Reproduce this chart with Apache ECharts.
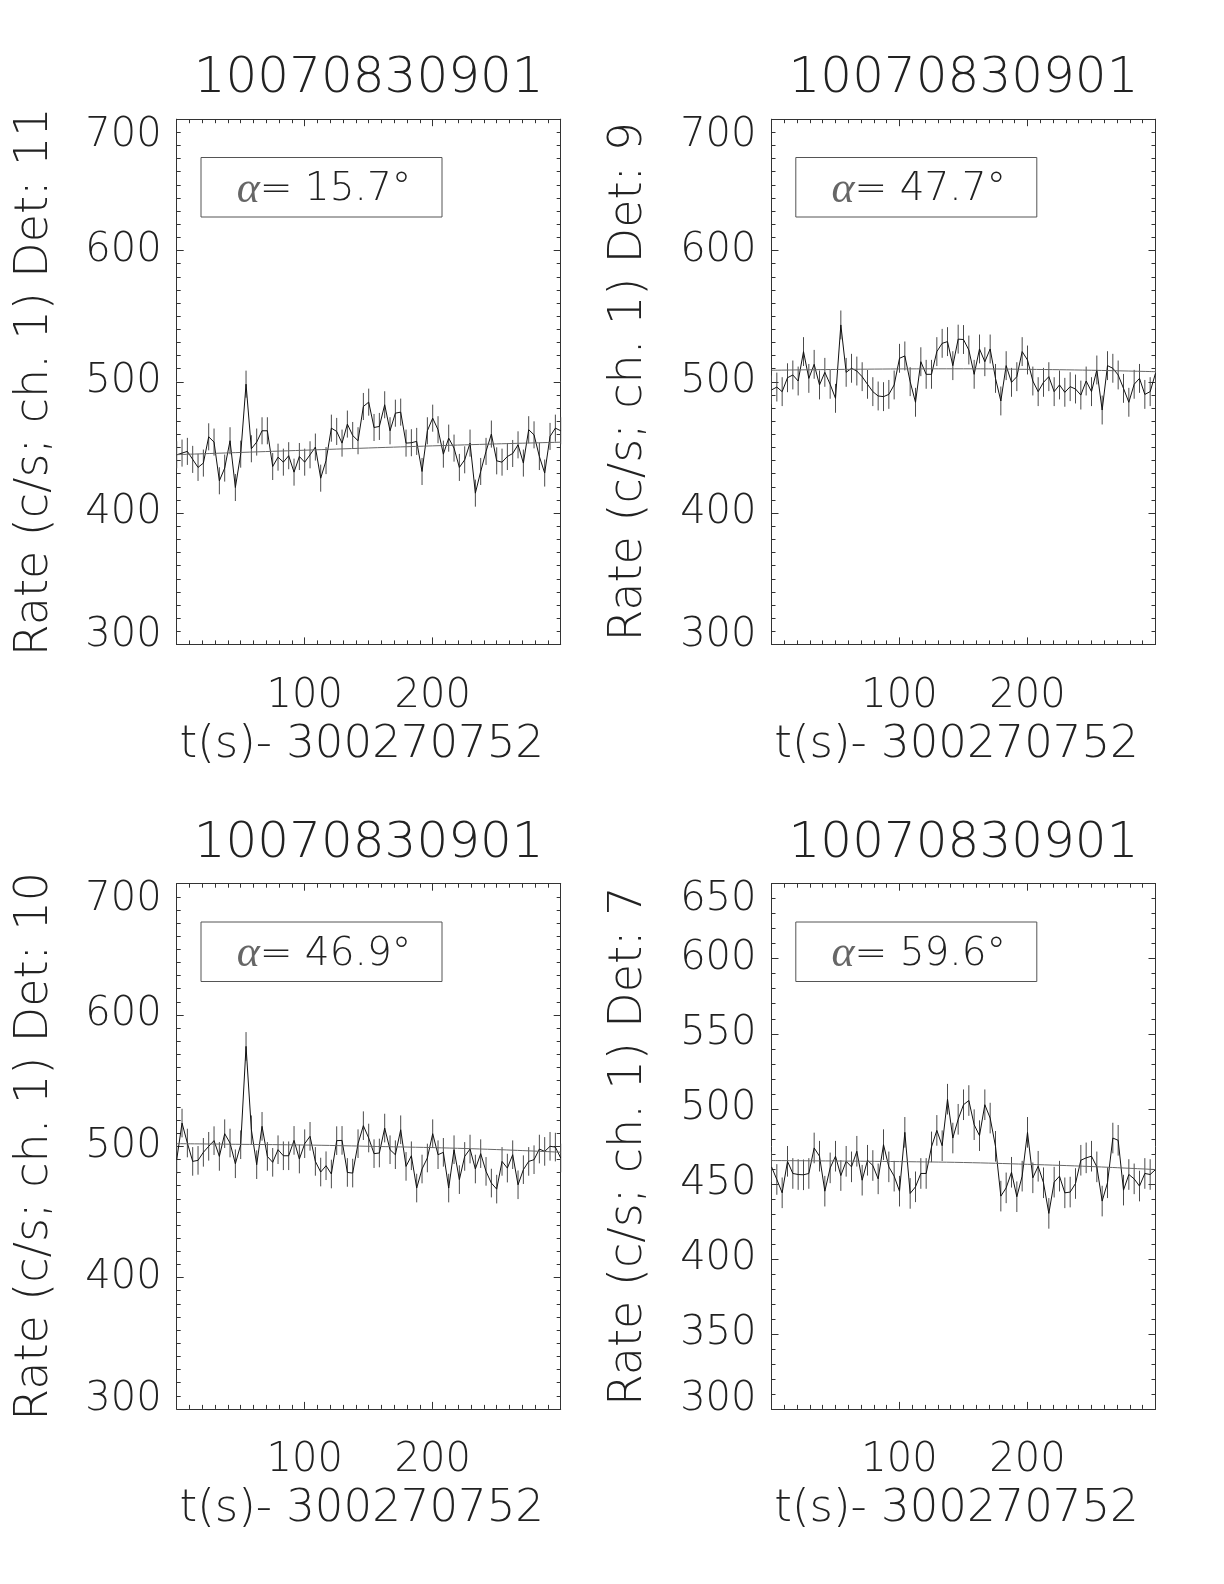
<!DOCTYPE html>
<html>
<head>
<meta charset="utf-8">
<script src="https://cdn.jsdelivr.net/npm/echarts@6/dist/echarts.min.js"></script>
<style>
html,body{margin:0;padding:0;background:#fff;}
#chart{width:1224px;height:1584px;}
</style>
</head>
<body>
<div id="chart"></div>
<script>
// ---------------- data ----------------
const obsId = '10070830901';
const timeAxisName = 't(s)- 300270752';
const detectors = ['11', '9', '10', '7'];
const alphas = ['15.7', '47.7', '46.9', '59.6'];

// time bins (s): 73 bins of 300/72 s from 0 to 300
const binCount = 73;
const binWidth = 300 / 72;
const times = [];
for (let k = 0; k < binCount; k++) times.push(+(k * binWidth).toFixed(3));

const rateDet11 = [444.4,445.7,447,440.9,434.8,438.1,458.1,454.1,424.6,434.3,455.1,419.5,444.9,498.2,449,454.1,462.7,462.7,435.5,442.6,438.8,443.7,431.2,443.1,438.8,444.4,450.3,426.6,440,464.7,462.2,453.3,467.8,459.1,455.1,481.2,484.5,465.2,466,482.5,462.7,476.1,476.9,453.3,453.6,454.6,431.7,462.7,472.3,463.5,444.9,457.1,449.5,434.8,440.6,453.3,415.2,431.7,447,460.2,439.8,438.8,443.1,445.4,452,438.1,463.5,459.6,443.1,430.5,458.4,464.7,462.7];
const rateDet9 = [493.8,496,492.5,503.1,505.2,500.6,523,502.6,513.3,497.6,507.2,498.1,487.4,543.3,507.2,510.3,508.2,503.9,498.1,492.5,489.2,488.7,490.4,497.6,517.9,519.7,500.1,484.4,515.3,505.7,505.7,523,529.3,530.6,512.3,532.5,532.2,524.2,505.7,525,515.3,525,502.6,485.4,512.3,499.6,503.9,523,516.6,500.6,492.5,499.6,503.9,492.5,497.6,492,496.3,494.5,489.9,500.6,492.5,509,478.5,512.3,510.3,505.2,495,484.4,498.1,502.6,490.4,492.5,506.5];
const rateDet10 = [489.8,517.7,502.5,488.5,489.3,495.4,500,504.3,492.3,509.6,502.5,486.7,501.2,576.1,512.6,486,515.2,492.3,487.8,497.4,492.8,492.8,504.5,490.3,502,507.6,488.5,480.4,485.2,478.9,504.3,504.5,480.1,479.6,502,515.7,506.3,494.4,494.9,513.9,497.4,493.6,512.6,484.7,492.8,468.2,482.7,491.1,509.6,493.6,495.4,468.2,497.4,474.6,492.3,497.9,482.7,494.4,480.9,472,467.4,488.5,483.4,493.6,470.7,482.2,488.5,489.8,497.9,496.1,500,499.4,491.1];
const rateDet7 = [461.3,452.9,444,465,456.9,456.2,456,456.9,473.9,468.4,445.1,460.6,468.4,455.5,465,461.3,471.7,452.4,465.7,462.2,453.3,476.1,461.3,455.1,445.1,484.3,443.6,448,456.9,456.9,474.6,485.6,475.4,506.4,480.5,493,502.7,505.5,489.4,482.1,502.7,493.8,475,441.8,447.3,457.7,441.4,455.1,484.3,454,461.7,450.7,430.3,451.1,455.1,444,444.5,450.2,465.7,467.3,468.4,461.3,438.5,450.7,480.5,479,445.8,456.2,453.3,448.5,456.9,456.2,459.5];

// half length of the error bars (c/s) per panel
const errorHalf = [10.3, 11.0, 10.9, 10.2];

// model (fit) curve, sampled at these times
const fitTimes = [0, 50, 100, 150, 200, 250, 300];
const fitDet11 = [444.5, 446.2, 447.9, 449.6, 451.2, 452.7, 454.0];
const fitDet9  = [508.8, 509.4, 509.8, 509.9, 509.5, 508.8, 507.7];
const fitDet10 = [502.0, 501.5, 501.0, 500.0, 499.0, 497.5, 495.5];
const fitDet7  = [465.5, 465.2, 464.8, 464.2, 463.0, 461.5, 459.5];

// axis ranges / ticks
const xMin = 0, xMax = 300, xInterval = 100;
const yMins = [300, 300, 300, 300];
const yMaxs = [700, 700, 700, 650];
const yIntervals = [100, 100, 100, 50];
const yMinorSplits = [10, 10, 10, 5];

const rates = [rateDet11, rateDet9, rateDet10, rateDet7];
const fits = [fitDet11, fitDet9, fitDet10, fitDet7];

// ---------------- layout / style ----------------
const FONT = "'DejaVu Sans'";
const FW = 200;
const TXT = '#222';
const AX = '#333';
const gridPos = [
  {left: 176.7, top: 119.2},
  {left: 771.5, top: 119.2},
  {left: 176.7, top: 883.7},
  {left: 771.5, top: 883.7}
];
const gridW = 384, gridH = 525.2;

const grids = [], xAxes = [], yAxes = [], series = [], graphics = [];

function axisBase() {
  return {
    axisLine: {show: true, onZero: false, lineStyle: {color: AX, width: 1}},
    axisTick: {show: true, inside: true, length: 7, lineStyle: {color: AX, width: 1}},
    splitLine: {show: false},
    minorSplitLine: {show: false}
  };
}

for (let i = 0; i < 4; i++) {
  const g = gridPos[i];
  grids.push({left: g.left, top: g.top, width: gridW, height: gridH,
    containLabel: false, outerBoundsMode: 'none', show: false});

  // bottom x axis (labels + name)
  xAxes.push(Object.assign(axisBase(), {
    gridIndex: i, type: 'value', position: 'bottom',
    min: xMin, max: xMax, interval: xInterval,
    minorTick: {show: true, splitNumber: 10, length: 4, lineStyle: {color: AX, width: 1}},
    axisLabel: {show: true, showMinLabel: false, showMaxLabel: false, margin: 32,
      fontSize: 40, fontFamily: FONT, fontWeight: FW, color: TXT},
    name: timeAxisName, nameLocation: 'middle', nameGap: 78, nameMoveOverlap: false,
    nameTextStyle: {fontSize: 45, fontFamily: FONT, fontWeight: FW, color: TXT, padding: [0, 14, 0, 0]}
  }));
  // top x axis (ticks only)
  xAxes.push(Object.assign(axisBase(), {
    gridIndex: i, type: 'value', position: 'top',
    min: xMin, max: xMax, interval: xInterval,
    minorTick: {show: true, splitNumber: 10, length: 4, lineStyle: {color: AX, width: 1}},
    axisLabel: {show: false}
  }));
  // left y axis
  yAxes.push(Object.assign(axisBase(), {
    gridIndex: i, type: 'value', position: 'left',
    min: yMins[i], max: yMaxs[i], interval: yIntervals[i],
    minorTick: {show: true, splitNumber: yMinorSplits[i], length: 4, lineStyle: {color: AX, width: 1}},
    axisLabel: {show: true, margin: 15, fontSize: 40, lineHeight: 18, padding: [7, 0, 0, 0],
      fontFamily: FONT, fontWeight: FW, color: TXT,
      verticalAlignMinLabel: 'bottom', verticalAlignMaxLabel: 'top'},
    name: 'Rate (c/s; ch. 1) Det: ' + detectors[i], nameLocation: 'middle', nameGap: 119,
    nameRotate: 90, nameMoveOverlap: false,
    nameTextStyle: {fontSize: 46, fontFamily: FONT, fontWeight: FW, color: TXT}
  }));
  // right y axis (ticks only)
  yAxes.push(Object.assign(axisBase(), {
    gridIndex: i, type: 'value', position: 'right',
    min: yMins[i], max: yMaxs[i], interval: yIntervals[i],
    minorTick: {show: true, splitNumber: yMinorSplits[i], length: 4, lineStyle: {color: AX, width: 1}},
    axisLabel: {show: false}
  }));

  const xi = 2 * i, yi = 2 * i;
  const r = rates[i];
  const e = errorHalf[i];

  series.push({
    type: 'custom', xAxisIndex: xi, yAxisIndex: yi, silent: true, z: 2,
    data: times.map((t, k) => [t, r[k] - e, r[k] + e]),
    encode: {x: 0, y: [1, 2]},
    renderItem: function (params, api) {
      const p1 = api.coord([api.value(0), api.value(1)]);
      const p2 = api.coord([api.value(0), api.value(2)]);
      return {type: 'line', shape: {x1: p1[0], y1: p1[1], x2: p2[0], y2: p2[1]},
        style: {stroke: '#4a4a4a', lineWidth: 1}};
    }
  });
  series.push({
    type: 'line', xAxisIndex: xi, yAxisIndex: yi, z: 3,
    data: times.map((t, k) => [t, r[k]]),
    showSymbol: false, symbol: 'none',
    lineStyle: {color: '#111', width: 1}
  });
  series.push({
    type: 'line', xAxisIndex: xi, yAxisIndex: yi, z: 4,
    data: fitTimes.map((t, k) => [t, fits[i][k]]),
    showSymbol: false, symbol: 'none', smooth: 0.4,
    lineStyle: {color: '#666', width: 1}
  });

  // panel title
  graphics.push({
    type: 'text', x: g.left + gridW / 2, y: g.top - 40, silent: true,
    style: {text: obsId, fontSize: 50, fontFamily: FONT, fontWeight: FW, fill: TXT,
      align: 'center', verticalAlign: 'middle'}
  });
  // alpha box
  graphics.push({
    type: 'rect', x: g.left + 24.3, y: g.top + 38.3, silent: true,
    shape: {x: 0, y: 0, width: 241, height: 59.5},
    style: {fill: 'none', stroke: '#555', lineWidth: 1}
  });
  graphics.push({
    type: 'text', x: g.left + 60, y: g.top + 71, silent: true,
    style: {
      text: '{a|α}= ' + alphas[i] + '°',
      fontSize: 39, fontFamily: FONT, fontWeight: FW, fill: TXT,
      align: 'left', verticalAlign: 'middle',
      rich: {a: {fontSize: 44, fontFamily: "'Liberation Serif'", fontWeight: 'normal', fontStyle: 'italic', fill: '#666'}}
    }
  });
}

const chart = echarts.init(document.getElementById('chart'), null, {renderer: 'canvas'});
chart.setOption({
  backgroundColor: '#fff',
  animation: false,
  grid: grids,
  xAxis: xAxes,
  yAxis: yAxes,
  series: series,
  graphic: graphics
});
</script>
</body>
</html>
